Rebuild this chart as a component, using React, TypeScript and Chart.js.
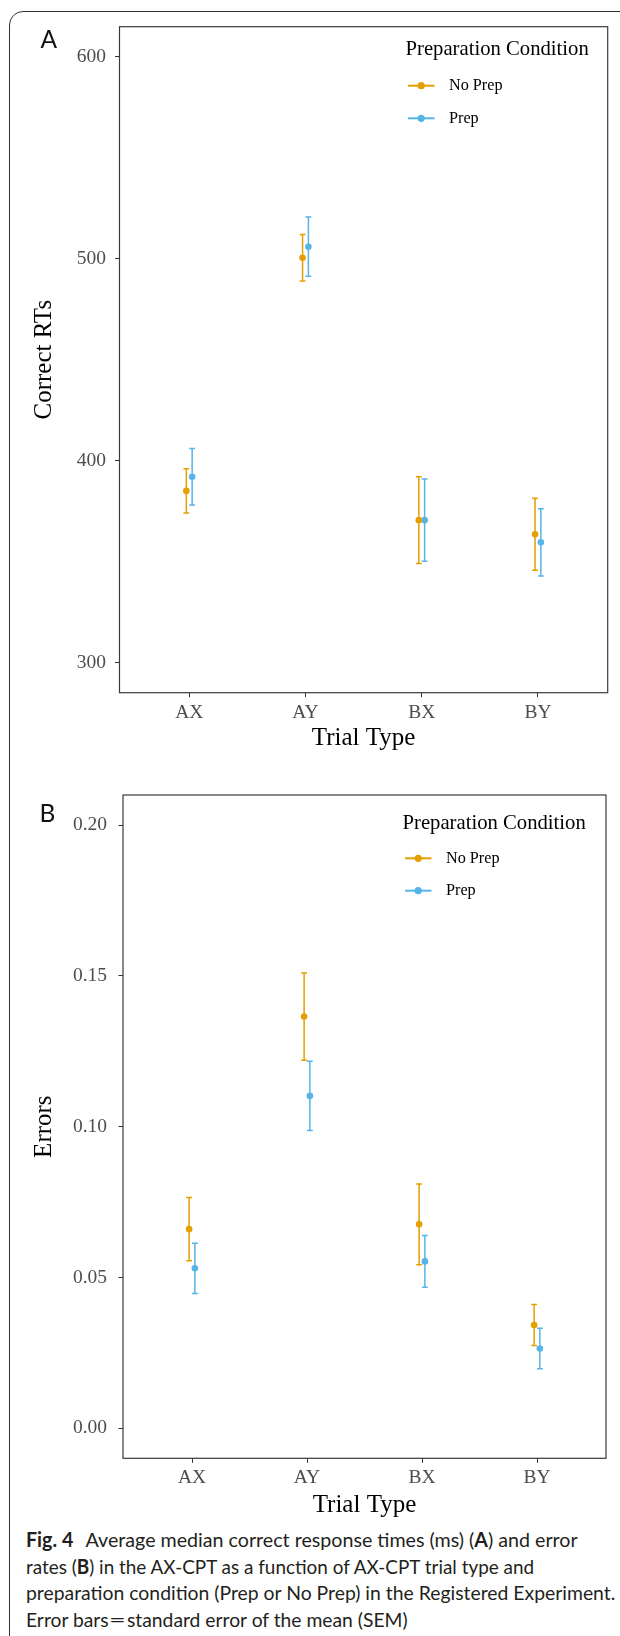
import React, { useEffect, useRef } from "react";
import { Chart, registerables } from "chart.js";

Chart.register(...registerables);

// ---------- data ----------
const trialTypes = ["AX", "AY", "BX", "BY"];
const conditions = ["No Prep", "Prep"];
const conditionColors = ["#E69F00", "#56B4E9"];

// Panel A: average median correct RTs (ms) and SEM
const rtNoPrep = [385, 500.5, 370.5, 363.5];
const rtNoPrepSem = [11, 11.5, 21.5, 17.8];
const rtPrep = [392, 506, 370.5, 359.5];
const rtPrepSem = [14, 14.7, 20.4, 16.7];
const rtTicks = [300, 400, 500, 600];

// Panel B: error rates and SEM
const errNoPrep = [0.066, 0.1365, 0.0676, 0.0342];
const errNoPrepSem = [0.0105, 0.0145, 0.0134, 0.0068];
const errPrep = [0.053, 0.1102, 0.0553, 0.0264];
const errPrepSem = [0.0083, 0.0115, 0.0086, 0.0067];
const errTicks = [0, 0.05, 0.1, 0.15, 0.2];

const LEGEND_TITLE = "Preparation Condition";
const X_TITLE = "Trial Type";
const Y_TITLE_A = "Correct RTs";
const Y_TITLE_B = "Errors";

// ---------- style ----------
const SERIF = '"Liberation Serif", "Times New Roman", serif';
const SANS = 'Lato, "Open Sans", sans-serif';
const DODGE = 0.025;
const CAPTION_LINE_WIDTHS = [551.6, 508.1, 589.3, 381.6];

const boxPlugin = {
  id: "panelBox",
  beforeDatasetsDraw(chart: any) {
    const { ctx, chartArea: a } = chart;
    ctx.save();
    ctx.strokeStyle = "#3a3a3a";
    ctx.lineWidth = 1.2;
    ctx.strokeRect(a.left, a.top, a.right - a.left, a.bottom - a.top);
    ctx.restore();
  },
};

const errorBarPlugin = {
  id: "errorBars",
  beforeDatasetsDraw(chart: any) {
    const { ctx } = chart;
    const xs = chart.scales.x;
    const ys = chart.scales.y;
    const cap = 2.9;
    chart.data.datasets.forEach((ds: any) => {
      ds.data.forEach((pt: any, i: number) => {
        const e = ds.errors[i];
        const px = xs.getPixelForValue(pt.x);
        const top = ys.getPixelForValue(pt.y + e);
        const bot = ys.getPixelForValue(pt.y - e);
        ctx.save();
        ctx.strokeStyle = ds.borderColor;
        ctx.lineWidth = 1.5;
        ctx.beginPath();
        ctx.moveTo(px, top);
        ctx.lineTo(px, bot);
        ctx.moveTo(px - cap, top);
        ctx.lineTo(px + cap, top);
        ctx.moveTo(px - cap, bot);
        ctx.lineTo(px + cap, bot);
        ctx.stroke();
        ctx.restore();
      });
    });
  },
};

const legendPlugin = {
  id: "ggLegend",
  afterDraw(chart: any, _args: any, opts: any) {
    const { ctx } = chart;
    ctx.save();
    ctx.textAlign = "left";
    ctx.textBaseline = "alphabetic";
    ctx.fillStyle = "#000";
    ctx.font = `20.7px ${SERIF}`;
    ctx.fillText(LEGEND_TITLE, opts.x, opts.titleBaseline);
    chart.data.datasets.forEach((ds: any, i: number) => {
      const y = opts.itemY[i];
      ctx.strokeStyle = ds.borderColor;
      ctx.lineWidth = 2;
      ctx.beginPath();
      ctx.moveTo(opts.x + 2.5, y);
      ctx.lineTo(opts.x + 29, y);
      ctx.stroke();
      ctx.fillStyle = ds.backgroundColor;
      ctx.beginPath();
      ctx.arc(opts.x + 15.7, y, 3.6, 0, Math.PI * 2);
      ctx.fill();
      ctx.fillStyle = "#000";
      ctx.font = `16.2px ${SERIF}`;
      ctx.textBaseline = "middle";
      ctx.fillText(ds.label, opts.x + 43.5, y);
    });
    ctx.restore();
  },
};

const panelLabelPlugin = {
  id: "panelLabel",
  afterDraw(chart: any, _args: any, opts: any) {
    const { ctx } = chart;
    ctx.save();
    ctx.font = `24.5px ${SANS}`;
    ctx.fillStyle = "#111";
    ctx.textAlign = "left";
    ctx.textBaseline = "alphabetic";
    ctx.fillText(opts.text, opts.x, opts.y);
    ctx.restore();
  },
};

function makeDatasets(means: number[][], sems: number[][]) {
  return conditions.map((label, c) => ({
    type: "scatter",
    label,
    data: means[c].map((v, i) => ({ x: i + 1 + (c === 0 ? -DODGE : DODGE), y: v })),
    errors: sems[c],
    backgroundColor: conditionColors[c],
    borderColor: conditionColors[c],
    borderWidth: 0,
    pointRadius: 3.3,
    showLine: false,
  }));
}

function makeConfig(p: any) {
  const tickGrid = {
    display: true,
    drawOnChartArea: false,
    drawTicks: true,
    tickLength: 4.5,
    color: "#333",
    lineWidth: 1,
  };
  return {
    type: "scatter",
    data: { datasets: makeDatasets(p.means, p.sems) },
    options: {
      responsive: false,
      animation: false,
      events: [],
      layout: { padding: { left: 0, top: p.padTop, right: p.padRight, bottom: 0 } },
      scales: {
        x: {
          type: "linear",
          min: 0.4,
          max: 4.6,
          afterBuildTicks: (s: any) => {
            s.ticks = trialTypes.map((_, i) => ({ value: i + 1 }));
          },
          afterFit: (s: any) => {
            s.height = p.xAxisHeight;
          },
          ticks: {
            callback: (v: number) => trialTypes[Math.round(v) - 1] ?? "",
            font: { family: SERIF, size: 19.5 },
            color: "#4D4D4D",
            padding: p.xTickPad,
            maxRotation: 0,
            autoSkip: false,
          },
          grid: tickGrid,
          border: { display: false },
          title: {
            display: true,
            text: X_TITLE,
            font: { family: SERIF, size: 25 },
            color: "#000",
            padding: { top: 0, bottom: 0 },
          },
        },
        y: {
          type: "linear",
          min: p.yMin,
          max: p.yMax,
          afterBuildTicks: (s: any) => {
            s.ticks = p.ticks.map((v: number) => ({ value: v }));
          },
          afterFit: (s: any) => {
            s.width = p.yAxisWidth;
          },
          ticks: {
            callback: p.fmt,
            font: { family: SERIF, size: 19.5 },
            color: "#4D4D4D",
            padding: p.yTickPad,
            autoSkip: false,
          },
          grid: tickGrid,
          border: { display: false },
          title: {
            display: true,
            text: p.yTitle,
            font: { family: SERIF, size: 25 },
            color: "#000",
            padding: { top: 29.5, bottom: 0 },
          },
        },
      },
      plugins: {
        legend: { display: false },
        tooltip: { enabled: false },
        ggLegend: p.legend,
        panelLabel: p.label,
      },
    },
    plugins: [boxPlugin, errorBarPlugin, legendPlugin, panelLabelPlugin],
  };
}

function ChartCanvas({ config, top, height }: any) {
  const ref = useRef<HTMLCanvasElement | null>(null);
  useEffect(() => {
    if (!ref.current) return;
    const chart = new Chart(ref.current, config);
    return () => chart.destroy();
  }, []);
  return (
    <canvas
      ref={ref}
      width={620}
      height={height}
      style={{ position: "absolute", left: 0, top, width: 620, height }}
    />
  );
}

const configA = makeConfig({
  means: [rtNoPrep, rtPrep],
  sems: [rtNoPrepSem, rtPrepSem],
  ticks: rtTicks,
  yMin: 285,
  yMax: 615,
  fmt: (v: number) => String(v),
  yTitle: Y_TITLE_A,
  padTop: 26.7,
  padRight: 12.3,
  yAxisWidth: 119.5,
  xAxisHeight: 60.3,
  xTickPad: 4.4,
  yTickPad: 9,
  legend: { x: 405.5, titleBaseline: 55.4, itemY: [85.7, 118.3] },
  label: { text: "A", x: 40.5, y: 48.3 },
});

const configB = makeConfig({
  means: [errNoPrep, errPrep],
  sems: [errNoPrepSem, errPrepSem],
  ticks: errTicks,
  yMin: -0.01,
  yMax: 0.21,
  fmt: (v: number) => v.toFixed(2),
  yTitle: Y_TITLE_B,
  padTop: 25,
  padRight: 14,
  yAxisWidth: 123,
  xAxisHeight: 61.7,
  xTickPad: 3.5,
  yTickPad: 11.5,
  legend: { x: 402.5, titleBaseline: 58.7, itemY: [88.3, 120.7] },
  label: { text: "B", x: 39.5, y: 51.7 },
});

function Caption() {
  const ref = useRef<HTMLDivElement | null>(null);
  useEffect(() => {
    const el = ref.current;
    if (!el) return;
    Array.from(el.children).forEach((child, i) => {
      const c = child as HTMLElement;
      const w = c.getBoundingClientRect().width;
      if (w > 0) c.style.transform = `scaleX(${CAPTION_LINE_WIDTHS[i] / w})`;
    });
  }, []);
  const lineStyle: React.CSSProperties = {
    whiteSpace: "nowrap",
    display: "table",
    height: 26.5,
    transformOrigin: "0 0",
  };
  return (
    <div
      ref={ref}
      style={{
        position: "absolute",
        left: 25.7,
        top: 1526.3,
        fontFamily: SANS,
        fontSize: 20,
        lineHeight: "26.5px",
        color: "#231F20",
      }}
    >
      <div style={lineStyle}>
        <b>Fig. 4</b>
        {"\u2002\u2009Average median correct response times (ms) ("}
        <b>A</b>
        {") and error"}
      </div>
      <div style={lineStyle}>
        {"rates ("}
        <b>B</b>
        {") in the AX-CPT as a function of AX-CPT trial type and"}
      </div>
      <div style={lineStyle}>
        {"preparation condition (Prep or No Prep) in the Registered Experiment."}
      </div>
      <div style={lineStyle}>
        {"Error bars"}
        <span style={{ display: "inline-block", width: 19, textAlign: "center" }}>
          <span style={{ display: "inline-block", transform: "scaleX(1.5)" }}>=</span>
        </span>
        {"standard error of the mean (SEM)"}
      </div>
    </div>
  );
}

export default function App() {
  return (
    <div
      style={{
        position: "absolute",
        left: 0,
        top: 0,
        width: 620,
        height: 1636,
        overflow: "hidden",
        background: "#fff",
      }}
    >
      <div
        style={{
          position: "absolute",
          left: 9,
          top: 10.5,
          width: 700,
          height: 1700,
          border: "1.4px solid #333",
          borderTopLeftRadius: 14,
          boxSizing: "border-box",
        }}
      />
      <ChartCanvas config={configA} top={0} height={753} />
      <ChartCanvas config={configB} top={770} height={750} />
      <Caption />
    </div>
  );
}
